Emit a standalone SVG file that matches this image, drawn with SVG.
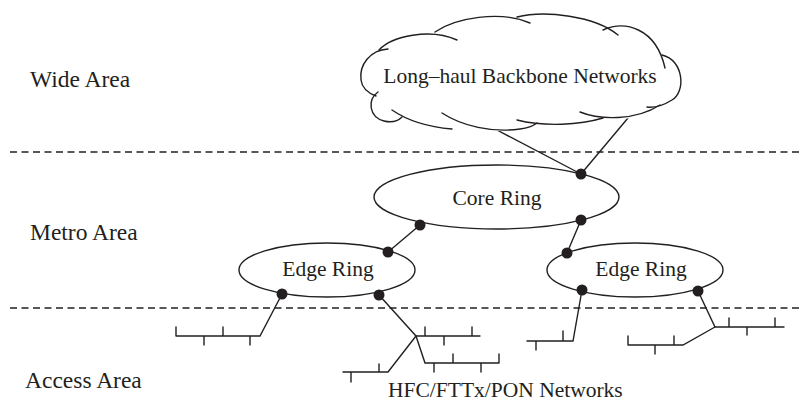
<svg xmlns="http://www.w3.org/2000/svg" width="803" height="403" viewBox="0 0 803 403">
  <style>
    .ln { fill: none; stroke: #231f20; stroke-width: 1.4; stroke-linecap: round; }
    .dash { fill: none; stroke: #231f20; stroke-width: 1.3; stroke-dasharray: 7 4.5; }
    .ring { fill: #fff; stroke: #231f20; stroke-width: 1.4; }
    .dot { fill: #231f20; }
    .lbl { font-family: "Liberation Serif", "Times New Roman", serif; font-size: 21.5px; fill: #231f20; }
    .area { font-family: "Liberation Serif", "Times New Roman", serif; font-size: 23.5px; fill: #231f20; }
  </style>

  <!-- region separators -->
  <g id="separators">
    <line class="dash" x1="10" y1="152" x2="803" y2="152"/>
    <line class="dash" x1="10" y1="308" x2="803" y2="308"/>
  </g>

  <!-- region labels -->
  <g id="region-labels">
    <text class="area" x="30" y="87">Wide Area</text>
    <text class="area" x="30" y="240">Metro Area</text>
    <text class="area" x="25" y="388">Access Area</text>
  </g>

  <!-- connectors -->
  <g id="connectors">
    <line class="ln" x1="495" y1="129" x2="581" y2="174"/>
    <line class="ln" x1="628" y1="118" x2="581" y2="174"/>
    <line class="ln" x1="420" y1="225" x2="388" y2="252"/>
    <line class="ln" x1="581" y1="220" x2="567" y2="253"/>
  </g>

  <!-- backbone cloud: white fill plus overlapping lobe arcs -->
  <g id="backbone">
    <path d="M360,78 C360,60 372,48 392,48 C400,36 430,26 458,30 C475,14 510,10 535,18 C560,6 600,12 618,24 C640,16 660,28 668,54 C684,64 686,96 660,106 C650,116 630,120 600,120 C580,128 540,130 510,130 C480,134 440,130 415,124 C400,126 380,124 374,112 C368,104 368,96 374,94 C364,90 360,84 360,78 Z" fill="#fff" stroke="none"/>
    <path class="ln" d="M388,49 C370,50 359,65 361,80 C362,88 368,93 376,96"/>
    <path class="ln" d="M378,92 C367,100 369,117 384,121 C392,123 398,121 402,117"/>
    <path class="ln" d="M392,110 C408,121 428,127 452,129"/>
    <path class="ln" d="M442,113 C462,126 492,133 520,129 C528,128 533,126 537,123"/>
    <path class="ln" d="M517,120 C545,127 580,125 603,118"/>
    <path class="ln" d="M580,112 C600,120 635,121 660,105"/>
    <path class="ln" d="M662,55 C684,60 686,92 672,100 C664,105 655,108 647,107"/>
    <path class="ln" d="M603,30 C625,20 656,28 665,68"/>
    <path class="ln" d="M517,17 C545,10 595,16 618,35"/>
    <path class="ln" d="M435,32 C455,18 500,10 530,23"/>
    <path class="ln" d="M379,50 C392,36 430,28 457,40"/>
    <text class="lbl" x="520" y="83" text-anchor="middle">Long–haul Backbone Networks</text>
  </g>

  <!-- metro rings -->
  <g id="core-ring">
    <ellipse class="ring" cx="496.5" cy="197" rx="122.5" ry="32"/>
    <text class="lbl" x="497" y="205" text-anchor="middle">Core Ring</text>
  </g>
  <g id="edge-ring-left">
    <ellipse class="ring" cx="327" cy="270" rx="88" ry="27"/>
    <text class="lbl" x="328" y="276" text-anchor="middle">Edge Ring</text>
  </g>
  <g id="edge-ring-right">
    <ellipse class="ring" cx="635" cy="270" rx="88" ry="27"/>
    <text class="lbl" x="641" y="276" text-anchor="middle">Edge Ring</text>
  </g>

  <!-- access trees -->
  <g id="access-left">
    <path class="ln" d="M282,294 L260,336 L176,336 M176,327 L176,336 M223,327 L223,336 M204,336 L204,345 M250,336 L250,345"/>
  </g>
  <g id="access-middle">
    <path class="ln" d="M379,295 L416,336 L480,336 M425,327 L425,336 M472,327 L472,336 M444,336 L444,345"/>
    <path class="ln" d="M416,336 L425,363 L499,363 M453,354 L453,363 M499,354 L499,363 M434,363 L434,372 M481,363 L481,372"/>
    <path class="ln" d="M416,336 L388,372 L343,372 M379,364 L379,372 M351,372 L351,382"/>
  </g>
  <g id="access-right-a">
    <path class="ln" d="M582,290 L573,341 L527,341 M563,331 L563,341 M536,341 L536,350"/>
  </g>
  <g id="access-right-b">
    <path class="ln" d="M698,291 L715,327 L784,327 M729,318 L729,327 M775,318 L775,327 M747,327 L747,335"/>
    <path class="ln" d="M715,327 L683,345 L628,345 M628,336 L628,345 M674,336 L674,345 M655,345 L655,354"/>
  </g>

  <!-- access network label -->
  <text class="lbl" x="388" y="397">HFC/FTTx/PON Networks</text>

  <!-- ring attachment points -->
  <g id="nodes">
    <circle class="dot" cx="581" cy="174" r="5.5"/>
    <circle class="dot" cx="420" cy="225" r="5.5"/>
    <circle class="dot" cx="581" cy="220" r="5.5"/>
    <circle class="dot" cx="388" cy="252" r="5.5"/>
    <circle class="dot" cx="567" cy="253" r="5.5"/>
    <circle class="dot" cx="282" cy="294" r="5.5"/>
    <circle class="dot" cx="379" cy="295" r="5.5"/>
    <circle class="dot" cx="582" cy="290" r="5.5"/>
    <circle class="dot" cx="698" cy="291" r="5.5"/>
  </g>
</svg>
